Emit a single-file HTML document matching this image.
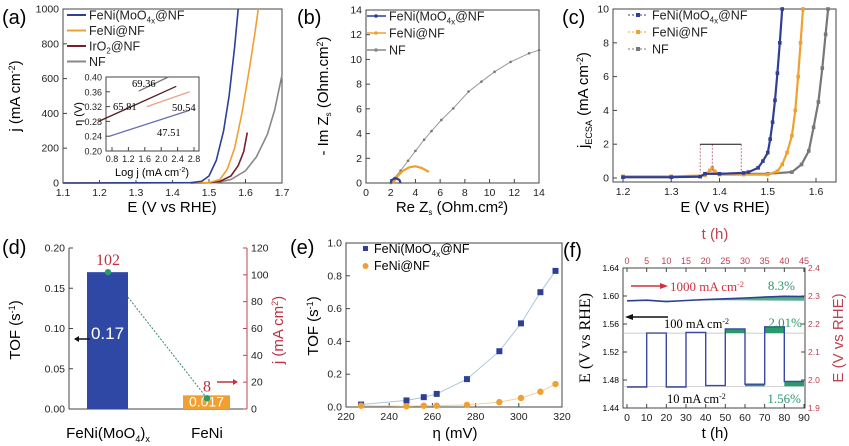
<!DOCTYPE html>
<html><head><meta charset="utf-8">
<style>
html,body{margin:0;padding:0;background:#fff;}
svg{display:block;font-family:"Liberation Sans",sans-serif;}
.tk{font-size:10.5px;fill:#222;}
.sr{font-family:"Liberation Serif",serif;}
</style></head>
<body>
<svg id="fig" width="849" height="446" viewBox="0 0 849 446" xmlns="http://www.w3.org/2000/svg"></svg>
<script>
// ---------- DATA ----------
const aBlue=[[1.10,0],[1.45,2],[1.48,10],[1.50,40],[1.52,130],[1.54,300],[1.555,500],[1.57,780],[1.58,1000]];
const aOrange=[[1.10,0],[1.50,3],[1.53,20],[1.55,80],[1.57,200],[1.59,400],[1.61,650],[1.625,850],[1.635,1000]];
const aIr=[[1.45,0],[1.50,2],[1.53,10],[1.56,40],[1.58,100],[1.595,180],[1.605,290]];
const aNF=[[1.10,0],[1.52,2],[1.56,20],[1.60,70],[1.63,150],[1.66,280],[1.68,420],[1.70,620]];
const aXTicks=[1.1,1.2,1.3,1.4,1.5,1.6,1.7];
const aYTicks=[0,200,400,600,800,1000];
const tGray=[[1.75,0.362],[2.3,0.40]];
const tBlack=[[1.0,0.28],[2.45,0.375]];
const tOrange=[[1.9,0.32],[2.7,0.36]];
const tBlue=[[1.2,0.24],[2.7,0.31]];
const tXTicks=[0.8,1.2,1.6,2.0,2.4,2.8];
const tYTicks=[0.20,0.24,0.28,0.32,0.36,0.40];
const bNF=[[2,0],[2.3,0.4],[2.8,1.0],[3.4,1.8],[4.0,2.6],[4.7,3.5],[5.3,4.2],[6.1,5.1],[7.06,6.04],[8.3,7.4],[9.34,8.2],[10.4,9.0],[11.7,9.8],[13.2,10.5],[14,10.75]];
const bOrange=[[2.2,0],[2.6,0.6],[3.0,1.0],[3.5,1.27],[4.0,1.35],[4.5,1.22],[4.9,1.0],[5.1,0.9]];
const bBlue=[[2.0,0],[2.1,0.25],[2.4,0.4],[2.7,0.25],[2.8,0]];
const bTicks=[0,2,4,6,8,10,12,14];
const cBlue=[[1.20,0.05],[1.30,0.05],[1.36,0.08],[1.37,0.25],[1.40,0.25],[1.45,0.3],[1.46,0.35],[1.48,0.6],[1.49,1.0],[1.50,1.5],[1.505,2.3],[1.51,3.3],[1.515,4.6],[1.52,6.2],[1.525,8.0],[1.53,10]];
const cOrange=[[1.20,0.1],[1.30,0.1],[1.37,0.15],[1.38,0.45],[1.385,0.6],[1.39,0.4],[1.40,0.2],[1.45,0.2],[1.50,0.2],[1.52,0.4],[1.53,0.8],[1.54,1.5],[1.55,2.5],[1.557,4.0],[1.563,6.0],[1.568,8.0],[1.573,10]];
const cGray=[[1.20,0.05],[1.30,0.05],[1.36,0.1],[1.37,0.25],[1.45,0.25],[1.50,0.25],[1.55,0.35],[1.57,0.8],[1.585,1.6],[1.595,3.0],[1.605,4.5],[1.613,6.5],[1.62,8.5],[1.625,10]];
const cXTicks=[1.2,1.3,1.4,1.5,1.6];
const cYTicks=[0,2,4,6,8,10];
const dCats=["FeNi(MoO4)x","FeNi"];
const dTOF=[0.17,0.017];
const dJ=[102,8];
const dYTicks=[0,0.05,0.10,0.15,0.20];
const dRTicks=[0,20,40,60,80,100,120];
const eEta=[227,248,256,262,276,291,301,310,317];
const eBlue=[0.015,0.04,0.06,0.08,0.17,0.34,0.51,0.70,0.83];
const eOrange=[0.008,0.005,0.008,0.008,0.013,0.03,0.055,0.093,0.14];
const eXTicks=[220,240,260,280,300,320];
const eYTicks=[0,0.2,0.4,0.6,0.8,1.0];
const fSteps=[[0,10,1.470],[10,20,1.547],[20,30,1.470],[30,40,1.548],[40,50,1.472],[50,60,1.553],[60,70,1.474],[70,80,1.556],[80,90,1.478]];
const fHigh=[[0,2.283],[5,2.285],[10,2.280],[15,2.284],[20,2.287],[25,2.290],[30,2.293],[35,2.296],[40,2.299],[45,2.298]];
const fXTicks=[0,10,20,30,40,50,60,70,80,90];
const fTopTicks=[0,5,10,15,20,25,30,35,40,45];
const fYTicks=[1.44,1.48,1.52,1.56,1.60,1.64];
const fRTicks=[1.9,2.0,2.1,2.2,2.3,2.4];

// ---------- HELPERS ----------
const svg=document.getElementById('fig');
const NS='http://www.w3.org/2000/svg';
function mk(tag,at,parent){const e=document.createElementNS(NS,tag);for(const k in at)e.setAttribute(k,at[k]);(parent||svg).appendChild(e);return e;}
function lin(d0,d1,r0,r1){return v=>r0+(v-d0)*(r1-r0)/(d1-d0);}
function txt(x,y,s,opt,parent){const t=mk('text',Object.assign({x:x,y:y},opt||{}),parent);t.innerHTML=s;return t;}
function pathOf(pts,X,Y){return pts.map((p,i)=>(i?'L':'M')+X(p[0]).toFixed(1)+' '+Y(p[1]).toFixed(1)).join('');}
function box(x0,y0,x1,y1,name){const r=mk('rect',{x:x0,y:y0,width:x1-x0,height:y1-y0,fill:'none',stroke:'#444','stroke-width':1});return r;}
function xticks(ticks,X,y,fmt,name,col,fs){const g=mk('g',{});
 ticks.forEach(v=>{mk('line',{x1:X(v),x2:X(v),y1:y,y2:y-4,stroke:'#444'},g);const t=txt(X(v),y+(fs?fs+2:13),fmt(v),{class:'tk','text-anchor':'middle'},g);if(fs)t.setAttribute('style','font-size:'+fs+'px');if(col)t.setAttribute('fill',col);});return g;}
function yticks(ticks,Y,x,fmt,name,right,col,fs){const g=mk('g',{});
 ticks.forEach(v=>{mk('line',{x1:x,x2:right?x-4:x+4,y1:Y(v),y2:Y(v),stroke:col||'#444'},g);const t=txt(right?x+4:x-4,Y(v)+3.5,fmt(v),{class:'tk','text-anchor':right?'start':'end'},g);if(fs)t.setAttribute('style','font-size:'+fs+'px');if(col)t.setAttribute('fill',col);});return g;}
function label(x,y,s,opt,name){const t=txt(x,y,s,opt);return t;}
function line(pts,X,Y,col,w,name){const p=mk('path',{d:pathOf(pts,X,Y),fill:'none',stroke:col,'stroke-width':w||1.6});return p;}
const f1=v=>v.toFixed(1), f0=v=>String(v), f2=v=>v.toFixed(2);

// ---------- (a) ----------
{const X=lin(1.1,1.7,63,282),Y=lin(0,1000,183,9);
 box(63,9,282,183,'panel-a-plot-area');
 xticks(aXTicks,X,183,f1,'panel-a-x-ticks');yticks(aYTicks,Y,63,f0,'panel-a-y-ticks');
 line(aNF,X,Y,'#888',1.6,'line-nf');line(aIr,X,Y,'#7a1f2b',1.6,'line-iro2');
 line(aOrange,X,Y,'#f0a030',1.6,'line-feni');line(aBlue,X,Y,'#2e3f95',1.6,'line-fenimoo4');
 label(2,24,'(a)',{'font-size':20},'panel-a-letter');
 label(172,212,'E (V vs RHE)',{'font-size':15,'text-anchor':'middle'},'panel-a-x-title');
 label(0,0,'j (mA cm<tspan dy="-5" font-size="9">-2</tspan><tspan dy="5">)</tspan>',{'font-size':15,'text-anchor':'middle',transform:'translate(20,96) rotate(-90)'},'panel-a-y-title');
 const leg=[['#2e3f95','FeNi(MoO<tspan dy="3" font-size="8">4</tspan><tspan dy="1" font-size="8">x</tspan><tspan dy="-4">@NF</tspan>'],['#f0a030','FeNi@NF'],['#7a1f2b','IrO<tspan dy="3" font-size="8">2</tspan><tspan dy="-3">@NF</tspan>'],['#888','NF']];
 leg.forEach((l,i)=>{const y=15+i*15.5;const g=mk('g',{});
  mk('line',{x1:67,x2:86,y1:y,y2:y,stroke:l[0],'stroke-width':2},g);txt(89,y+4.5,l[1],{'font-size':12.5,fill:'#222'},g);});
 // inset
 const bg=mk('rect',{x:76,y:74,width:126,height:106,fill:'#fff'});
 const IX=lin(0.8,2.8,112,194),IY=lin(0.2,0.4,151,77);
 const r=mk('rect',{x:106,y:77,width:93,height:74,fill:'#fff',stroke:'#444'});
 xticks(tXTicks,IX,151,f1,'inset-x-ticks',null,9);
 yticks(tYTicks,IY,106,f2,'inset-y-ticks',false,null,9);
 const IX2=lin(0.8,2.8,88,195);
 line(tGray,IX2,IY,'#777',1.3,'tafel-nf');line(tBlack,IX2,IY,'#552020',1.3,'tafel-iro2');line(tOrange,IX2,IY,'#f0a080',1.3,'tafel-feni');line(tBlue,IX2,IY,'#6670b0',1.3,'tafel-fenimoo4');
 label(132,87,'69.36',{'font-size':10.5,class:'sr'},'tafel-label-nf');label(113,110,'65.81',{'font-size':10.5,class:'sr'},'tafel-label-iro2');
 label(172,111,'50.54',{'font-size':10.5,class:'sr'},'tafel-label-feni');label(157,136,'47.51',{'font-size':10.5,class:'sr'},'tafel-label-fenimoo4');
 label(152,176,'Log j  (mA cm<tspan dy="-4" font-size="7">-2</tspan><tspan dy="4">)</tspan>',{'font-size':11,'text-anchor':'middle'},'inset-x-title');
 label(0,0,'η (V)',{'font-size':11,'text-anchor':'middle',transform:'translate(82,114) rotate(-90)'},'inset-y-title');
}
// ---------- (b) ----------
{const X=lin(0,14,366,539),Y=lin(0,14,183,10);
 box(366,10,539,183,'panel-b-plot-area');
 xticks(bTicks,X,183,f0,'panel-b-x-ticks');yticks(bTicks,Y,366,f0,'panel-b-y-ticks');
 line(bNF,X,Y,'#999',1,'line-nf-nyquist');
 bNF.forEach(p=>{const c=mk('circle',{cx:X(p[0]),cy:Y(p[1]),r:1.3,fill:'#777'});});
 line(bOrange,X,Y,'#f0a030',2.2,'line-feni-nyquist');line(bBlue,X,Y,'#2e3f95',2.2,'line-fenimoo4-nyquist');
 label(297,24,'(b)',{'font-size':20},'panel-b-letter');
 label(452,212,'Re Z<tspan dy="3" font-size="8">s</tspan><tspan dy="-3"> (Ohm.cm²)</tspan>',{'font-size':15,'text-anchor':'middle'},'panel-b-x-title');
 label(0,0,'- Im Z<tspan dy="3" font-size="8">s</tspan><tspan dy="-3"> (Ohm.cm</tspan><tspan dy="-5" font-size="9">2</tspan><tspan dy="5">)</tspan>',{'font-size':15,'text-anchor':'middle',transform:'translate(328,96) rotate(-90)'},'panel-b-y-title');
 const leg=[['#2e3f95','FeNi(MoO<tspan dy="3" font-size="8">4</tspan><tspan dy="1" font-size="8">x</tspan><tspan dy="-4">@NF</tspan>'],['#f0a030','FeNi@NF'],['#888','NF']];
 leg.forEach((l,i)=>{const y=16+i*17;const g=mk('g',{});
  mk('line',{x1:367,x2:386,y1:y,y2:y,stroke:l[0],'stroke-width':1.5},g);mk('circle',{cx:376,cy:y,r:1.8,fill:l[0]},g);txt(389,y+4.5,l[1],{'font-size':12.5,fill:'#222'},g);});
}
// ---------- (c) ----------
{const X=lin(1.2,1.6,623,816),Y=lin(0,10,178,9);
 box(613,9,836,182,'panel-c-plot-area');
 xticks(cXTicks,X,182,f1,'panel-c-x-ticks');yticks(cYTicks,Y,613,f0,'panel-c-y-ticks');
 [[cGray,'#777','nf'],[cOrange,'#f0a030','feni'],[cBlue,'#2e3f95','fenimoo4']].forEach(s=>{
  line(s[0],X,Y,s[1],2.2,'line-ecsa-'+s[2]);
  s[0].forEach(p=>{const c=mk('rect',{x:X(p[0])-1.8,y:Y(p[1])-1.8,width:3.6,height:3.6,fill:s[1]});});});
 const g=mk('g',{stroke:'#b05070','stroke-width':0.8,'stroke-dasharray':'2,1.5'});
 [1.36,1.385,1.445].forEach(v=>mk('line',{x1:X(v),x2:X(v),y1:Y(2.0),y2:Y(0.3)},g));
 const g2=mk('g',{stroke:'#111','stroke-width':1});
 mk('line',{x1:X(1.36),x2:X(1.445),y1:Y(2.0),y2:Y(2.0)},g2);
 label(562,24,'(c)',{'font-size':20},'panel-c-letter');
 label(725,212,'E (V vs RHE)',{'font-size':15,'text-anchor':'middle'},'panel-c-x-title');
 label(0,0,'j<tspan dy="4" font-size="9">ECSA</tspan><tspan dy="-4"> (mA cm</tspan><tspan dy="-5" font-size="9">-2</tspan><tspan dy="5">)</tspan>',{'font-size':15,'text-anchor':'middle',transform:'translate(588,100) rotate(-90)'},'panel-c-y-title');
 const leg=[['#2e3f95','FeNi(MoO<tspan dy="3" font-size="8">4</tspan><tspan dy="1" font-size="8">x</tspan><tspan dy="-4">@NF</tspan>'],['#f0a030','FeNi@NF'],['#777','NF']];
 leg.forEach((l,i)=>{const y=15+i*17;const gg=mk('g',{});
  mk('line',{x1:628,x2:648,y1:y,y2:y,stroke:l[0],'stroke-width':1,'stroke-dasharray':'2,2'},gg);mk('rect',{x:636,y:y-2,width:4,height:4,fill:l[0]},gg);txt(652,y+4.5,l[1],{'font-size':12.5,fill:'#222'},gg);});
}
// ---------- (d) ----------
{const Y=lin(0,0.2,409,248),YR=lin(0,120,409,248);const bx=[[87,128],[183,230]];const cols=['#2f48a6','#f0a030'];
 mk('line',{x1:69,x2:69,y1:248,y2:409,stroke:'#444'});
 mk('line',{x1:69,x2:247,y1:409,y2:409,stroke:'#444'});
 mk('line',{x1:247,x2:247,y1:248,y2:409,stroke:'#c04050'});
 yticks(dYTicks,Y,69,f2,'panel-d-y-ticks');yticks(dRTicks,YR,247,f0,'panel-d-right-ticks',true,'#c04050');
 dTOF.forEach((v,i)=>{const r=mk('rect',{x:bx[i][0],y:Y(v),width:bx[i][1]-bx[i][0],height:409-Y(v),fill:cols[i]});
  label((bx[i][0]+bx[i][1])/2,i?Y(v)+11:Y(v)+67,String(v),{'font-size':i?14:17,'text-anchor':'middle',fill:'#fff'},'bar-value-'+i);});
 const cx=[108,207];
 const dl=mk('line',{x1:cx[0]+20,y1:YR(dJ[0])+25,x2:cx[1],y2:YR(dJ[1]),stroke:'#3a8a6a','stroke-dasharray':'2,1.5'});
 dJ.forEach((v,i)=>{const c=mk('circle',{cx:cx[i],cy:YR(v),r:3.2,fill:'#2a9a6a'});
  label(cx[i],YR(v)-7,String(v),{'font-size':16,'text-anchor':'middle',fill:'#c03040',class:'sr'},'j-value-'+i);});
 mk('line',{x1:75,x2:90,y1:339,y2:339,stroke:'#111','stroke-width':1.5});mk('path',{d:'M74 339 l5 -3 v6z',fill:'#111'});
 mk('line',{x1:217,x2:235,y1:382,y2:382,stroke:'#c03040','stroke-width':1.5});mk('path',{d:'M238 382 l-5 -3 v6z',fill:'#c03040'});
 label(108,438,'FeNi(MoO<tspan dy="4" font-size="9">4</tspan><tspan dy="-4">)</tspan><tspan dy="4" font-size="9">x</tspan>',{'font-size':15,'text-anchor':'middle'},'category-fenimoo4');
 label(207,438,'FeNi',{'font-size':15,'text-anchor':'middle'},'category-feni');
 label(2,254,'(d)',{'font-size':20},'panel-d-letter');
 label(0,0,'TOF (s<tspan dy="-5" font-size="9">-1</tspan><tspan dy="5">)</tspan>',{'font-size':15,'text-anchor':'middle',transform:'translate(20,330) rotate(-90)'},'panel-d-y-title');
 label(0,0,'j (mA cm<tspan dy="-5" font-size="9">2</tspan><tspan dy="5">)</tspan>',{'font-size':15,'text-anchor':'middle',fill:'#c03040',transform:'translate(283,330) rotate(-90)'},'panel-d-right-title');
}
// ---------- (e) ----------
{const X=lin(220,320,346,562),Y=lin(0,1,407,243);
 box(346,243,562,407,'panel-e-plot-area');
 xticks(eXTicks,X,407,f0,'panel-e-x-ticks');yticks(eYTicks,Y,346,f1,'panel-e-y-ticks');
 const bp=eEta.map((v,i)=>[v,eBlue[i]]),op=eEta.map((v,i)=>[v,eOrange[i]]);
 line(bp,X,Y,'#a8c8e0',1,'fit-fenimoo4');line(op,X,Y,'#f5d0a0',1,'fit-feni');
 bp.forEach(p=>{const r=mk('rect',{x:X(p[0])-3,y:Y(p[1])-3,width:6,height:6,fill:'#2e3f95'});});
 op.forEach(p=>{const c=mk('circle',{cx:X(p[0]),cy:Y(p[1]),r:3.2,fill:'#f0a030'});});
 label(290,254,'(e)',{'font-size':20},'panel-e-letter');
 label(455,438,'η (mV)',{'font-size':15,'text-anchor':'middle'},'panel-e-x-title');
 label(0,0,'TOF (s<tspan dy="-5" font-size="9">-1</tspan><tspan dy="5">)</tspan>',{'font-size':15,'text-anchor':'middle',transform:'translate(318,326) rotate(-90)'},'panel-e-y-title');
 let g=mk('g',{});
 mk('rect',{x:363,y:246,width:5,height:5,fill:'#2e3f95'},g);txt(374,253,'FeNi(MoO<tspan dy="3" font-size="8">4</tspan><tspan dy="1" font-size="8">x</tspan><tspan dy="-4">@NF</tspan>',{'font-size':12.5},g);
 g=mk('g',{});
 mk('circle',{cx:365.5,cy:266,r:3,fill:'#f0a030'},g);txt(374,270,'FeNi@NF',{'font-size':12.5},g);
}
// ---------- (f) ----------
{const X=lin(0,90,627,804),XT=lin(0,45,627,804),Y=lin(1.44,1.64,408,268),YR=lin(1.9,2.4,408,268);
 box(623,268,805,408,'panel-f-plot-area');
 xticks(fXTicks,X,408,f0,'panel-f-x-ticks');
 const gt=mk('g',{});
 fTopTicks.forEach(v=>{mk('line',{x1:XT(v),x2:XT(v),y1:268,y2:272,stroke:'#444'},gt);txt(XT(v),264,String(v),{'font-size':9,fill:'#c04050','text-anchor':'middle'},gt);});
 const gy=mk('g',{});
 fYTicks.forEach(v=>{mk('line',{x1:623,x2:627,y1:Y(v),y2:Y(v),stroke:'#444'},gy);txt(619,Y(v)+3,v.toFixed(2),{'font-size':8.5,'text-anchor':'end'},gy);});
 const gr=mk('g',{});
 fRTicks.forEach(v=>{mk('line',{x1:805,x2:801,y1:YR(v),y2:YR(v),stroke:'#444'},gr);txt(808,YR(v)+3,v.toFixed(1),{'font-size':8.5,fill:'#c04050'},gr);});
 mk('line',{x1:623,x2:805,y1:Y(1.547),y2:Y(1.547),stroke:'#bbb','stroke-width':0.7});
 mk('line',{x1:623,x2:805,y1:Y(1.471),y2:Y(1.471),stroke:'#bbb','stroke-width':0.7});
 fSteps.forEach(s=>{const base=s[2]>1.5?1.547:1.471;if(s[2]-base>0.002){const r=mk('rect',{x:X(s[0]),y:Y(s[2]),width:X(s[1])-X(s[0]),height:Y(base)-Y(s[2]),fill:'#2a9a6a'});}});
 const hf=mk('path',{d:pathOf(fHigh,XT,YR)+'L'+XT(45)+' '+YR(2.283)+'L'+XT(25)+' '+YR(2.285)+'Z',fill:'#2a9a6a',opacity:0.8});
 let d='';fSteps.forEach((s,i)=>{d+=(i?'L':'M')+X(s[0]).toFixed(1)+' '+Y(s[2]).toFixed(1)+'L'+X(s[1]).toFixed(1)+' '+Y(s[2]).toFixed(1);});
 const sp=mk('path',{d:d,fill:'none',stroke:'#3a4aa0','stroke-width':1.4});
 line(fHigh,XT,YR,'#2e3f95',1.6,'line-1000ma');
 mk('line',{x1:631,x2:660,y1:286,y2:286,stroke:'#d03040','stroke-width':1.5});mk('path',{d:'M668 286 l-8 -3 v6z',fill:'#d03040'});
 mk('line',{x1:633,x2:668,y1:317,y2:317,stroke:'#111','stroke-width':1.5});mk('path',{d:'M625 317 l8 -3 v6z',fill:'#111'});
 label(670,291,'1000 mA cm<tspan dy="-4" font-size="8">-2</tspan>',{'font-size':13,class:'sr',fill:'#d03040'},'label-1000ma');
 label(664,328,'100 mA cm<tspan dy="-4" font-size="8">-2</tspan>',{'font-size':12.5,class:'sr'},'label-100ma');
 label(667,403,'10 mA cm<tspan dy="-4" font-size="8">-2</tspan>',{'font-size':12.5,class:'sr'},'label-10ma');
 label(795,290,'8.3%',{'font-size':13,class:'sr',fill:'#2a9a6a','text-anchor':'end'},'label-8-3pct');
 label(802,327,'2.01%',{'font-size':13,class:'sr',fill:'#2a9a6a','text-anchor':'end'},'label-2-01pct');
 label(801,403,'1.56%',{'font-size':13,class:'sr',fill:'#2a9a6a','text-anchor':'end'},'label-1-56pct');
 label(563,257,'(f)',{'font-size':20},'panel-f-letter');
 label(715,239,'t (h)',{'font-size':15,'text-anchor':'middle',fill:'#c04050'},'panel-f-top-title');
 label(715,438,'t (h)',{'font-size':15,'text-anchor':'middle'},'panel-f-x-title');
 label(0,0,'E (V vs RHE)',{'font-size':16,class:'sr','text-anchor':'middle',transform:'translate(590,338) rotate(-90)'},'panel-f-y-title');
 label(0,0,'E (V vs RHE)',{'font-size':15,'text-anchor':'middle',fill:'#c04050',transform:'translate(843,338) rotate(-90)'},'panel-f-right-title');
}
</script>
</body></html>
